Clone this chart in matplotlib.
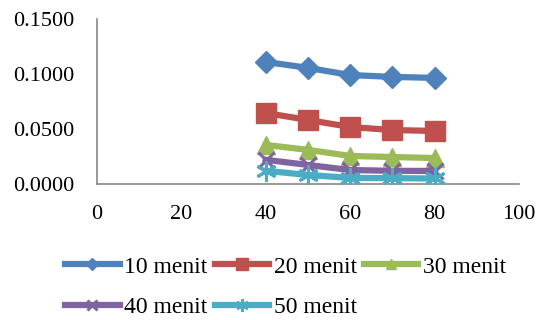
import numpy as np
from matplotlib import pyplot as plt

plt.rcParams['font.family'] = ['Liberation Serif', 'DejaVu Serif']

x = [40, 50, 60, 70, 80]
m10 = [0.1109, 0.1055, 0.0990, 0.0973, 0.0964]
m20 = [0.0645, 0.0582, 0.0518, 0.0490, 0.0482]
m30 = [0.0355, 0.0310, 0.0255, 0.0245, 0.0236]
m40 = [0.0220, 0.0173, 0.0127, 0.0120, 0.0118]
m50 = [0.0120, 0.0082, 0.0055, 0.0053, 0.0050]
labels = ['10 menit', '20 menit', '30 menit', '40 menit', '50 menit']

series = [m10, m20, m30, m40, m50]
colors = ['#4F81BD', '#C0504D', '#9BBB59', '#8064A2', '#4BACC6']
markers = ['D', 's', '^', 'x', (6, 2, 0)]
msizes = [11, 14, 13, 12, 15]

fig = plt.figure(figsize=(5.44, 3.2), dpi=100)
ax = fig.add_axes([0.178, 0.425, 0.776, 0.516])
handles = []
for s, c, m, ms, l in zip(series, colors, markers, msizes, labels):
    h, = ax.plot(x, s, color=c, lw=4.5, marker=m, ms=ms,
                 mew=2.2 if m in ('x', (6, 2, 0)) else 1,
                 mec=c, mfc=c, label=l, zorder=3)
    handles.append(h)

ax.set_xlim(0, 100)
ax.set_ylim(0, 0.15)
ax.set_xticks([0, 20, 40, 60, 80, 100])
ax.set_yticks([0, 0.05, 0.10, 0.15])
ax.set_yticklabels(['0.0000', '0.0500', '0.1000', '0.1500'])
for sp in ['top', 'right']:
    ax.spines[sp].set_visible(False)
for sp in ['left', 'bottom']:
    ax.spines[sp].set_color('#888888')
    ax.spines[sp].set_linewidth(1.2)
ax.tick_params(length=0, labelsize=16)
ax.tick_params(axis='y', pad=16.5)
ax.tick_params(axis='x', pad=15)

# legend fills row by row in the reference
order = [0, 3, 1, 4, 2]
leg_h = [handles[i] for i in order]
leg_l = [labels[i] for i in order]
fig.legend(leg_h, leg_l, loc='upper left', bbox_to_anchor=(0.12, 0.2), ncol=3,
           frameon=False, fontsize=17, handlelength=2.3, handletextpad=0.2,
           columnspacing=0.3, labelspacing=0.8, borderaxespad=0, borderpad=0,
           markerscale=0.6)
fig.savefig('out.png', dpi=100)
